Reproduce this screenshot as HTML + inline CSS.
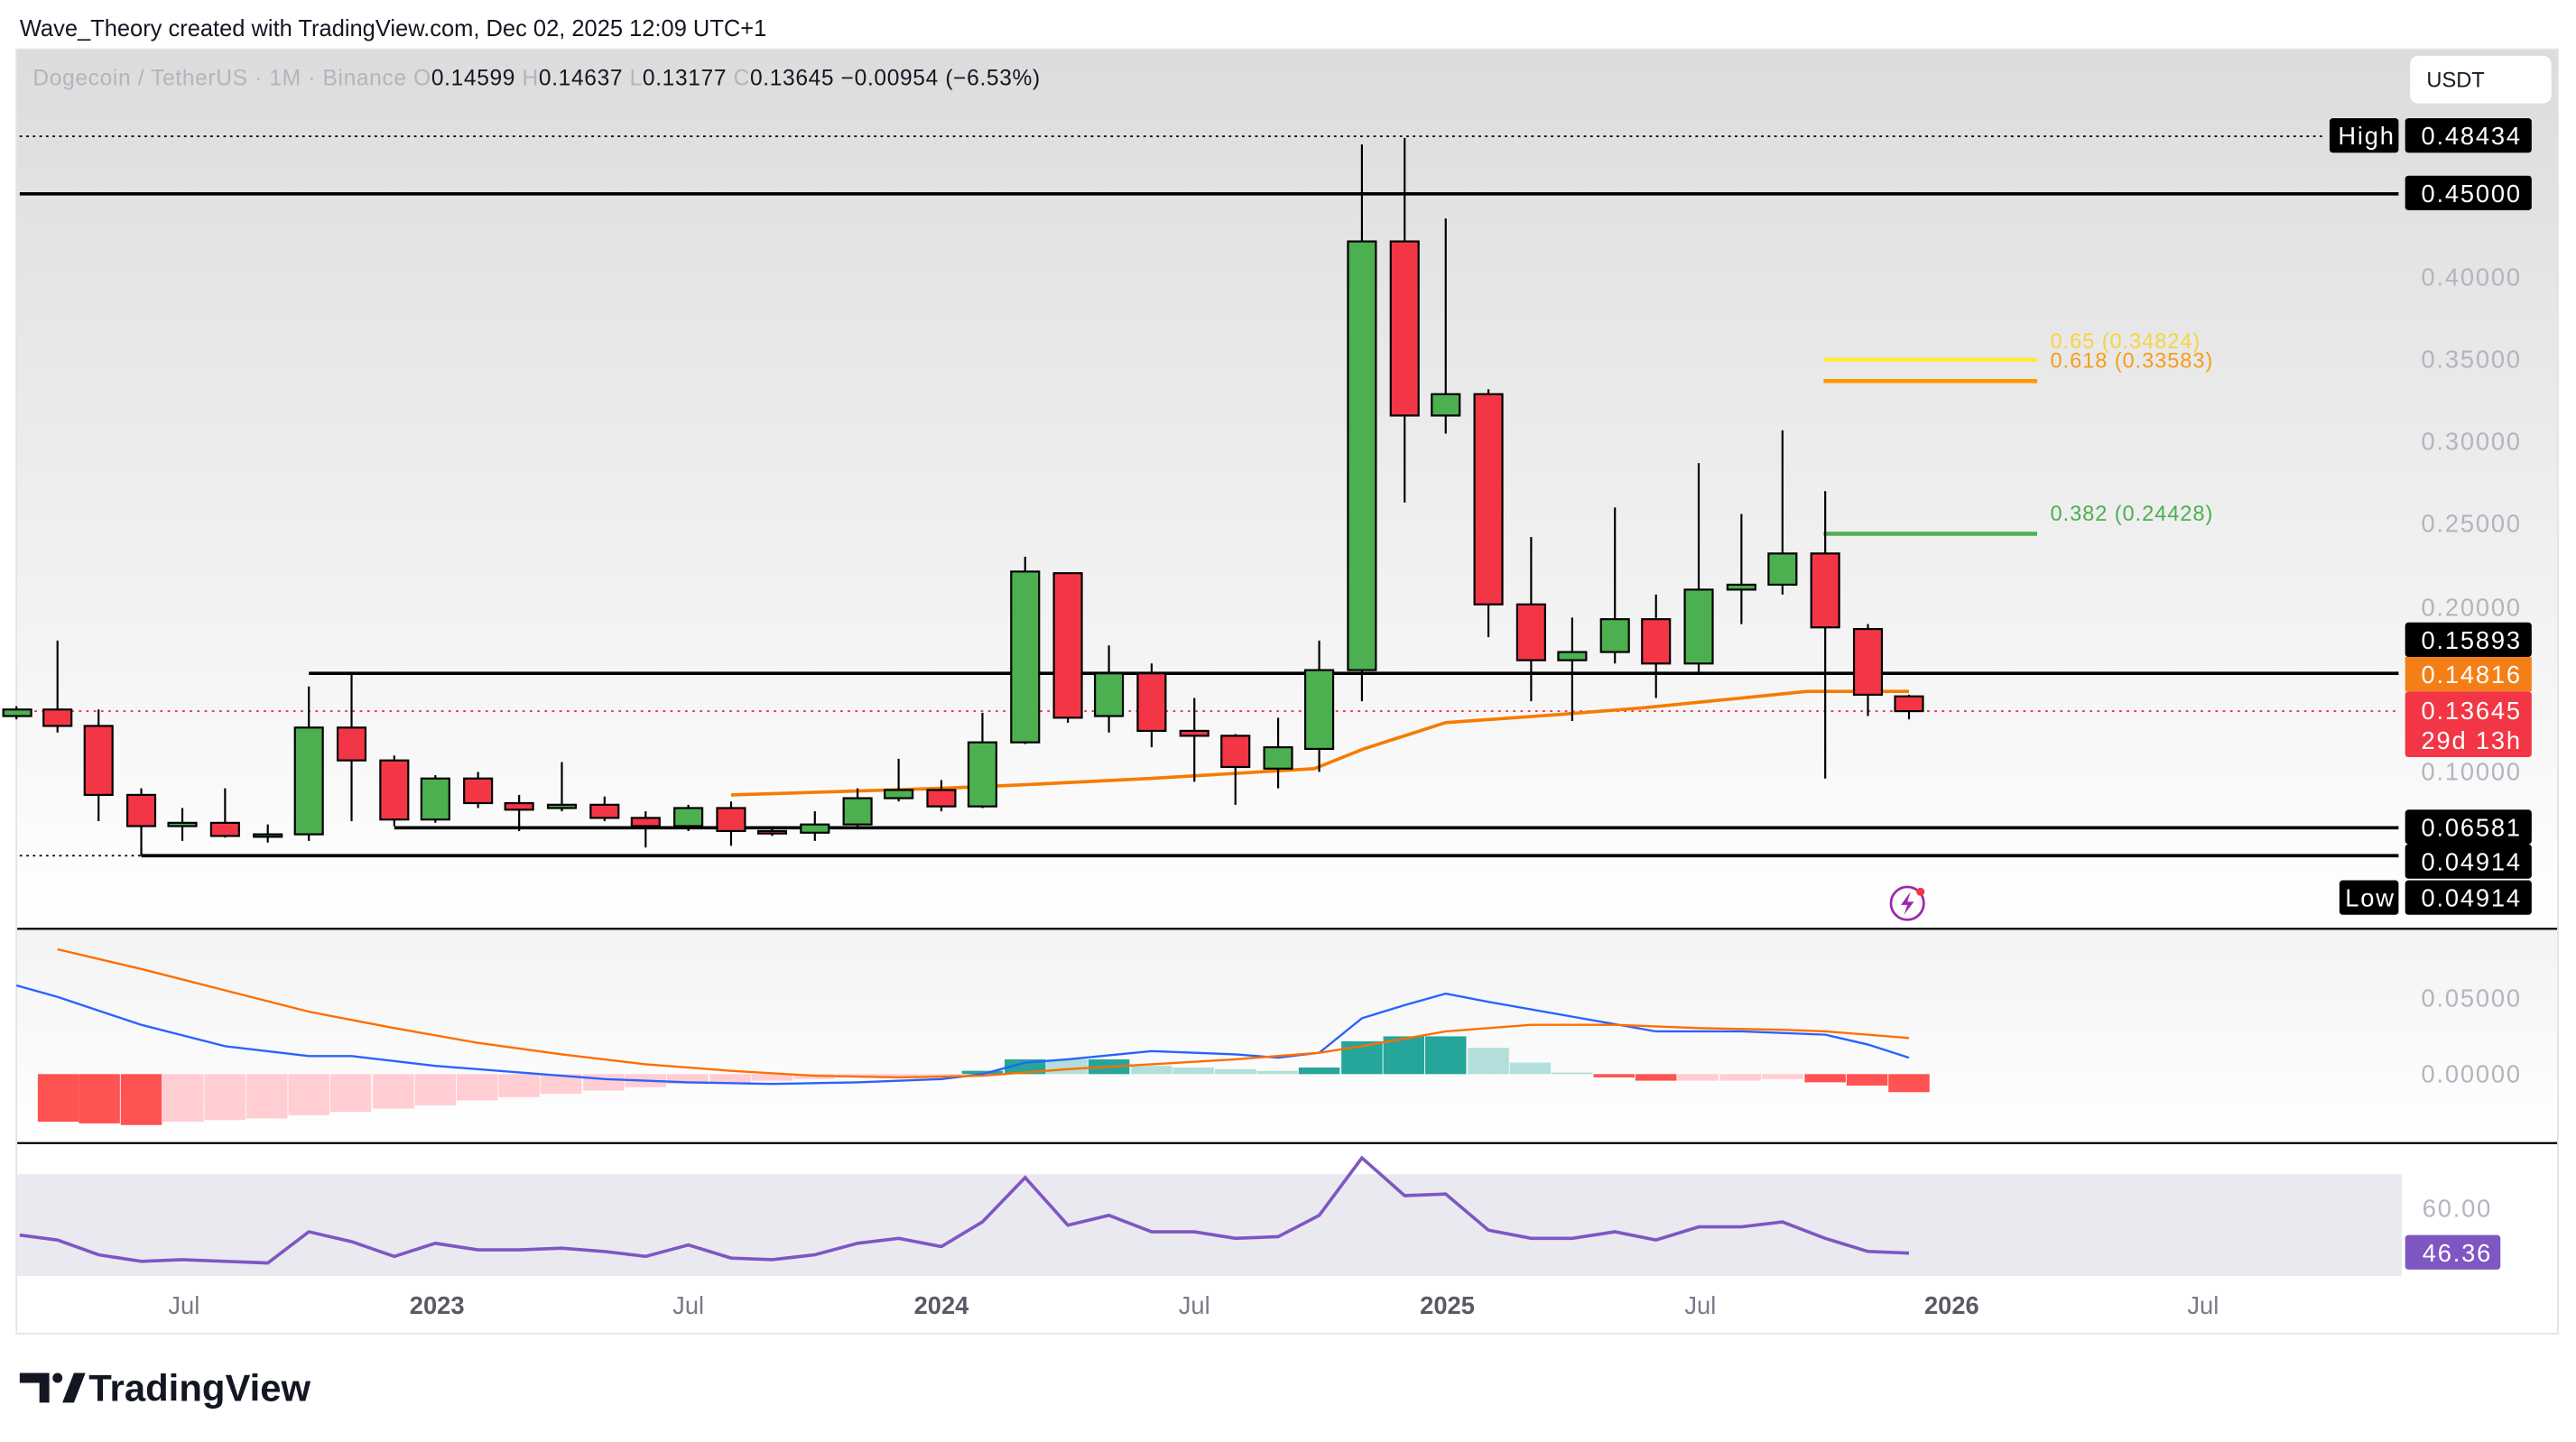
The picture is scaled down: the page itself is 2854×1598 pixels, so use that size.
<!DOCTYPE html>
<html><head><meta charset="utf-8"><style>
html,body{margin:0;padding:0;background:#fff}
svg{display:block}
text{font-family:"Liberation Sans",sans-serif}
</style></head><body>
<svg width="2854" height="1598" viewBox="0 0 1568 878" preserveAspectRatio="none" xmlns="http://www.w3.org/2000/svg">
<defs>
<linearGradient id="g1" x1="0" y1="0" x2="0" y2="1"><stop offset="0" stop-color="#dcdcdc"/><stop offset="1" stop-color="#ffffff"/></linearGradient>
<linearGradient id="g2" x1="0" y1="0" x2="0" y2="1"><stop offset="0" stop-color="#f3f3f3"/><stop offset="1" stop-color="#ffffff"/></linearGradient>
</defs>
<rect width="1568" height="878" fill="#fff"/>
<text x="12" y="22" font-size="14" fill="#131722">Wave_Theory created with TradingView.com, Dec 02, 2025 12:09 UTC+1</text>
<rect x="10" y="30" width="1547" height="535" fill="url(#g1)"/>
<rect x="10" y="566" width="1547" height="129" fill="url(#g2)"/>
<rect x="10" y="697" width="1547" height="115" fill="#fff"/>
<rect x="10" y="715" width="1452" height="62" fill="#ebe9f0"/>
<line x1="10" y1="565.5" x2="1557" y2="565.5" stroke="#000" stroke-width="1.2"/>
<line x1="10" y1="696" x2="1557" y2="696" stroke="#000" stroke-width="1.2"/>
<rect x="10" y="30" width="1547" height="782" fill="none" stroke="#e0e3eb"/>
<text x="20" y="52" font-size="13.5" fill="#b2b5be" textLength="613" lengthAdjust="spacing">Dogecoin / TetherUS · 1M · Binance  <tspan>O</tspan><tspan fill="#131722">0.14599</tspan>  H<tspan fill="#131722">0.14637</tspan>  L<tspan fill="#131722">0.13177</tspan>  C<tspan fill="#131722">0.13645</tspan>  <tspan fill="#131722">−0.00954 (−6.53%)</tspan></text>
<rect x="1467" y="34" width="86" height="29" rx="5" fill="#fff"/>
<text x="1477" y="53" font-size="13" fill="#131722">USDT</text>
<line x1="12" y1="83" x2="1415" y2="83" stroke="#000" stroke-dasharray="1.5,2.5"/>
<line x1="12" y1="118" x2="1460" y2="118" stroke="#000" stroke-width="2"/>
<line x1="188" y1="410" x2="1460" y2="410" stroke="#000" stroke-width="2"/>
<line x1="240" y1="504" x2="1460" y2="504" stroke="#000" stroke-width="2"/>
<line x1="86" y1="521" x2="1460" y2="521" stroke="#000" stroke-width="2"/>
<line x1="12" y1="521" x2="86" y2="521" stroke="#000" stroke-dasharray="1.5,2.5"/>
<line x1="12" y1="433" x2="1460" y2="433" stroke="#f23645" stroke-dasharray="1.5,3"/>
<line x1="1110" y1="219" x2="1240" y2="219" stroke="#ffeb3b" stroke-width="2.5"/>
<line x1="1110" y1="232" x2="1240" y2="232" stroke="#ff9800" stroke-width="2.5"/>
<line x1="1110" y1="325" x2="1240" y2="325" stroke="#4caf50" stroke-width="2.5"/>
<text x="1248" y="212" font-size="13" fill="#f5d443" letter-spacing="0.5">0.65 (0.34824)</text>
<text x="1248" y="224" font-size="13" fill="#f59d1b" letter-spacing="0.5">0.618 (0.33583)</text>
<text x="1248" y="317" font-size="13" fill="#4caf50" letter-spacing="0.5">0.382 (0.24428)</text>
<polyline fill="none" stroke="#f57c00" stroke-width="2" points="445,484 573,480 620,478 700,474 800,468 830,456 880,440 950,435 1000,431 1060,425 1100,421 1162,421"/>
<g stroke="#000" stroke-width="1.2">
<line x1="10" y1="430" x2="10" y2="438"/><line x1="35" y1="390" x2="35" y2="446"/><line x1="60" y1="432" x2="60" y2="500"/><line x1="86" y1="480" x2="86" y2="521"/><line x1="111" y1="492" x2="111" y2="512"/><line x1="137" y1="480" x2="137" y2="510"/><line x1="163" y1="502" x2="163" y2="513"/><line x1="188" y1="418" x2="188" y2="512"/><line x1="214" y1="411" x2="214" y2="500"/><line x1="240" y1="460" x2="240" y2="503"/><line x1="265" y1="472" x2="265" y2="501"/><line x1="291" y1="470" x2="291" y2="492"/><line x1="316" y1="484" x2="316" y2="506"/><line x1="342" y1="464" x2="342" y2="494"/><line x1="368" y1="485" x2="368" y2="500"/><line x1="393" y1="494" x2="393" y2="516"/><line x1="419" y1="490" x2="419" y2="506"/><line x1="445" y1="488" x2="445" y2="515"/><line x1="470" y1="503" x2="470" y2="509"/><line x1="496" y1="494" x2="496" y2="512"/><line x1="522" y1="480" x2="522" y2="505"/><line x1="547" y1="462" x2="547" y2="488"/><line x1="573" y1="475" x2="573" y2="494"/><line x1="598" y1="434" x2="598" y2="492"/><line x1="624" y1="339" x2="624" y2="453"/><line x1="650" y1="349" x2="650" y2="440"/><line x1="675" y1="393" x2="675" y2="446"/><line x1="701" y1="404" x2="701" y2="455"/><line x1="727" y1="425" x2="727" y2="476"/><line x1="752" y1="447" x2="752" y2="490"/><line x1="778" y1="437" x2="778" y2="480"/><line x1="803" y1="390" x2="803" y2="470"/><line x1="829" y1="88" x2="829" y2="427"/><line x1="855" y1="84" x2="855" y2="306"/><line x1="880" y1="133" x2="880" y2="264"/><line x1="906" y1="237" x2="906" y2="388"/><line x1="932" y1="327" x2="932" y2="427"/><line x1="957" y1="376" x2="957" y2="439"/><line x1="983" y1="309" x2="983" y2="404"/><line x1="1008" y1="362" x2="1008" y2="425"/><line x1="1034" y1="282" x2="1034" y2="410"/><line x1="1060" y1="313" x2="1060" y2="380"/><line x1="1085" y1="262" x2="1085" y2="362"/><line x1="1111" y1="299" x2="1111" y2="474"/><line x1="1137" y1="380" x2="1137" y2="436"/><line x1="1162" y1="423" x2="1162" y2="438"/>
</g>
<g stroke="#000" stroke-width="1.2">
<g fill="#4caf50">
<rect x="2" y="432" width="17" height="4"/><rect x="102.5" y="501" width="17" height="2"/><rect x="154.5" y="508" width="17" height="1.5"/><rect x="179.5" y="443" width="17" height="65"/><rect x="256.5" y="474" width="17" height="25"/><rect x="333.5" y="490" width="17" height="2"/><rect x="410.5" y="492" width="17" height="11"/><rect x="487.5" y="502" width="17" height="5"/><rect x="513.5" y="486" width="17" height="16"/><rect x="538.5" y="481" width="17" height="5"/><rect x="589.5" y="452" width="17" height="39"/><rect x="615.5" y="348" width="17" height="104"/><rect x="666.5" y="410" width="17" height="26"/><rect x="769.5" y="455" width="17" height="13"/><rect x="794.5" y="408" width="17" height="48"/><rect x="820.5" y="147" width="17" height="261"/><rect x="871.5" y="240" width="17" height="13"/><rect x="948.5" y="397" width="17" height="5"/><rect x="974.5" y="377" width="17" height="20"/><rect x="1025.5" y="359" width="17" height="45"/><rect x="1051.5" y="356" width="17" height="3"/><rect x="1076.5" y="337" width="17" height="19"/>
</g>
<g fill="#f23645">
<rect x="26.5" y="432" width="17" height="10"/><rect x="51.5" y="442" width="17" height="42"/><rect x="77.5" y="484" width="17" height="19"/><rect x="128.5" y="501" width="17" height="8"/><rect x="205.5" y="443" width="17" height="20"/><rect x="231.5" y="463" width="17" height="36"/><rect x="282.5" y="474" width="17" height="15"/><rect x="307.5" y="489" width="17" height="4"/><rect x="359.5" y="490" width="17" height="8"/><rect x="384.5" y="498" width="17" height="5"/><rect x="436.5" y="492" width="17" height="14"/><rect x="461.5" y="506" width="17" height="1.5"/><rect x="564.5" y="481" width="17" height="10"/><rect x="641.5" y="349" width="17" height="88"/><rect x="692.5" y="410" width="17" height="35"/><rect x="718.5" y="445" width="17" height="3"/><rect x="743.5" y="448" width="17" height="19"/><rect x="846.5" y="147" width="17" height="106"/><rect x="897.5" y="240" width="17" height="128"/><rect x="923.5" y="368" width="17" height="34"/><rect x="999.5" y="377" width="17" height="27"/><rect x="1102.5" y="337" width="17" height="45"/><rect x="1128.5" y="383" width="17" height="40"/><rect x="1153.5" y="424" width="17" height="9"/>
</g></g>
<g font-size="15" fill="#b2b5be" text-anchor="end" letter-spacing="1">
<text x="1535" y="174">0.40000</text><text x="1535" y="224">0.35000</text><text x="1535" y="274">0.30000</text><text x="1535" y="324">0.25000</text><text x="1535" y="375">0.20000</text><text x="1535" y="475">0.10000</text>
<text x="1535" y="613">0.05000</text><text x="1535" y="659">0.00000</text><text x="1517" y="741">60.00</text>
</g>
<g font-size="15" text-anchor="end" letter-spacing="1">
<rect x="1418" y="72" width="42" height="21" rx="2" fill="#000"/><text x="1458" y="88" fill="#fff">High</text>
<rect x="1464" y="72" width="77" height="21" rx="2" fill="#000"/><text x="1535" y="88" fill="#fff">0.48434</text>
<rect x="1464" y="107" width="77" height="21" rx="2" fill="#000"/><text x="1535" y="123" fill="#fff">0.45000</text>
<rect x="1464" y="379" width="77" height="21" rx="2" fill="#000"/><text x="1535" y="395" fill="#fff">0.15893</text>
<rect x="1464" y="400" width="77" height="21" fill="#f57f17"/><text x="1535" y="416" fill="#fff">0.14816</text>
<rect x="1464" y="421" width="77" height="40" rx="2" fill="#f23645"/><text x="1535" y="438" fill="#fff">0.13645</text><text x="1535" y="456" fill="#fff">29d 13h</text>
<rect x="1464" y="493" width="77" height="21" rx="2" fill="#000"/><text x="1535" y="509" fill="#fff">0.06581</text>
<rect x="1464" y="514" width="77" height="21" rx="2" fill="#000"/><text x="1535" y="530" fill="#fff">0.04914</text>
<rect x="1424" y="536" width="36" height="21" rx="2" fill="#000"/><text x="1458" y="552" fill="#fff">Low</text>
<rect x="1464" y="536" width="77" height="21" rx="2" fill="#000"/><text x="1535" y="552" fill="#fff">0.04914</text>
<rect x="1464" y="752" width="58" height="21" rx="2" fill="#7e57c2"/><text x="1517" y="768" fill="#fff">46.36</text>
</g>
<circle cx="1161" cy="550" r="10" fill="none" stroke="#9c27b0" stroke-width="1.5"/>
<path d="M1163,543 L1157,551 L1161,551 L1159,557 L1165,549 L1161,549 Z" fill="#9c27b0"/>
<circle cx="1169" cy="543" r="2.5" fill="#f23645"/>
<g>
<rect x="23" y="654" width="25" height="29" fill="#ff5252"/><rect x="48" y="654" width="25" height="30" fill="#ff5252"/><rect x="73.5" y="654" width="25" height="31" fill="#ff5252"/>
<g fill="#ffcdd2">
<rect x="99" y="654" width="25" height="29"/><rect x="124.5" y="654" width="25" height="28"/><rect x="150" y="654" width="25" height="27"/><rect x="175.5" y="654" width="25" height="25"/><rect x="201" y="654" width="25" height="23"/><rect x="227" y="654" width="25" height="21"/><rect x="252.5" y="654" width="25" height="19"/><rect x="278" y="654" width="25" height="16"/><rect x="303.5" y="654" width="25" height="14"/><rect x="329" y="654" width="25" height="12"/><rect x="355" y="654" width="25" height="10"/><rect x="380.5" y="654" width="25" height="8"/><rect x="406" y="654" width="25" height="6"/><rect x="432" y="654" width="25" height="5"/><rect x="457.5" y="654" width="25" height="4"/><rect x="483" y="654" width="25" height="3"/><rect x="509" y="654" width="25" height="2"/><rect x="534.5" y="654" width="25" height="2"/><rect x="560" y="654" width="25" height="1"/>
<rect x="1021" y="654" width="25" height="4"/><rect x="1047" y="654" width="25" height="4"/><rect x="1072.5" y="654" width="25" height="3"/>
</g>
<g fill="#26a69a"><rect x="585.5" y="652" width="25" height="2"/><rect x="611.5" y="645" width="25" height="9"/><rect x="662.5" y="645" width="25" height="9"/><rect x="790.5" y="650" width="25" height="4"/><rect x="816.5" y="634" width="25" height="20"/><rect x="842" y="631" width="25" height="23"/><rect x="867.5" y="631" width="25" height="23"/></g>
<g fill="#b2dfdb"><rect x="637" y="645" width="25" height="9"/><rect x="688.5" y="649" width="25" height="5"/><rect x="714" y="650" width="25" height="4"/><rect x="739.5" y="651" width="25" height="3"/><rect x="765" y="652" width="25" height="2"/><rect x="893.5" y="638" width="25" height="16"/><rect x="919" y="647" width="25" height="7"/><rect x="944.5" y="653" width="25" height="1"/></g>
<g fill="#ff5252"><rect x="970" y="654" width="25" height="2"/><rect x="995.5" y="654" width="25" height="4"/><rect x="1098.5" y="654" width="25" height="5"/><rect x="1124" y="654" width="25" height="7"/><rect x="1149.5" y="654" width="25" height="11"/></g>
</g>
<polyline fill="none" stroke="#2962ff" stroke-width="1.3" points="10,600 35,607 86,624 137,637 188,643 214,643 265,649 316,653 368,657 419,659 470,660 522,659 573,657 598,654 624,647 650,645 701,640 752,642 778,644 803,641 829,620 855,612 880,605 906,610 957,619 1008,628 1060,628 1111,630 1137,636 1162,644"/>
<polyline fill="none" stroke="#ff6d00" stroke-width="1.3" points="35,578 86,590 137,603 188,616 240,626 291,635 342,642 393,648 445,652 496,655 547,656 598,655 650,651 701,648 752,645 803,641 829,637 880,628 932,624 983,624 1034,626 1085,627 1111,628 1137,630 1162,632"/>
<polyline fill="none" stroke="#7e57c2" stroke-width="2" points="12,752 35,755 60,764 86,768 111,767 137,768 163,769 188,750 214,756 240,765 265,757 291,761 316,761 342,760 368,762 393,765 419,758 445,766 470,767 496,764 522,757 547,754 573,759 598,744 624,717 650,746 675,740 701,750 727,750 752,754 778,753 803,740 829,705 855,728 880,727 906,749 932,754 957,754 983,750 1008,755 1034,747 1060,747 1085,744 1111,754 1137,762 1162,763"/>
<g font-size="15" fill="#787b86" text-anchor="middle">
<text x="112" y="800">Jul</text><text x="266" y="800" font-weight="bold" fill="#131722" opacity="0.7">2023</text><text x="419" y="800">Jul</text><text x="573" y="800" font-weight="bold" fill="#131722" opacity="0.7">2024</text><text x="727" y="800">Jul</text><text x="881" y="800" font-weight="bold" fill="#131722" opacity="0.7">2025</text><text x="1035" y="800">Jul</text><text x="1188" y="800" font-weight="bold" fill="#131722" opacity="0.7">2026</text><text x="1341" y="800">Jul</text>
</g>
<path d="M12,836 h18 v18 h-6 v-12 h-12 z" fill="#131722"/>
<circle cx="35" cy="839" r="3" fill="#131722"/>
<path d="M38,854 l7,-18 h7 l-7,18 z" fill="#131722"/>
<text x="54" y="853" font-size="23" font-weight="bold" fill="#131722">TradingView</text>
</svg>
</body></html>
